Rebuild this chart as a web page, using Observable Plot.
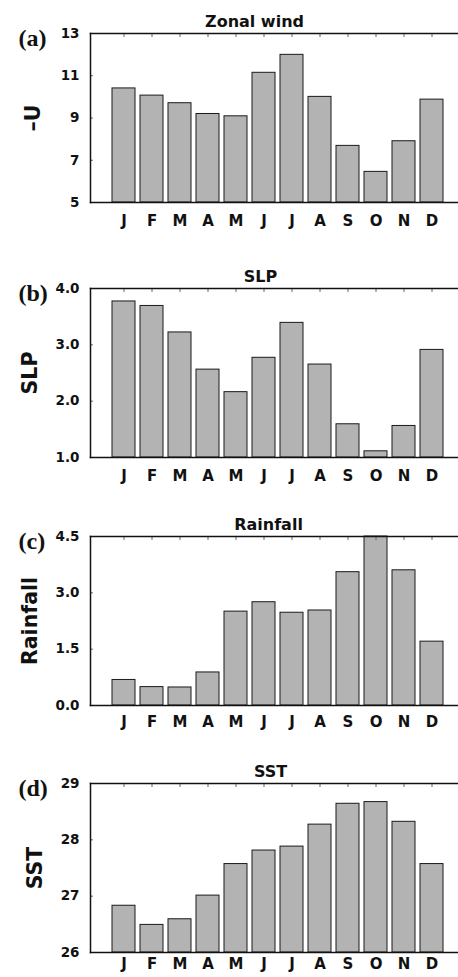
<!DOCTYPE html>
<html><head><meta charset="utf-8">
<script src="https://cdn.jsdelivr.net/npm/d3@7"></script>
<script src="https://cdn.jsdelivr.net/npm/@observablehq/plot@0.6"></script>
<style>
html,body{margin:0;padding:0;background:#fff;overflow:hidden}
#chart{position:relative;width:458px;height:977px;overflow:hidden;background:#fff}
#chart svg{position:absolute;left:0}
</style></head><body><div id="chart"></div>
<script>
// ---- data ----
const months = ["Jan","Feb","Mar","Apr","May","Jun","Jul","Aug","Sep","Oct","Nov","Dec"];
const monthLetters = ["J","F","M","A","M","J","J","A","S","O","N","D"];
const zonalWind = [10.40, 10.06, 9.70, 9.19, 9.08, 11.14, 11.99, 10.00, 7.68, 6.45, 7.90, 9.87];
const slp = [3.77, 3.69, 3.22, 2.56, 2.16, 2.77, 3.39, 2.65, 1.59, 1.11, 1.56, 2.91];
const rainfall = [0.68, 0.49, 0.48, 0.88, 2.50, 2.75, 2.47, 2.53, 3.55, 4.50, 3.60, 1.70];
const sst = [26.83, 26.49, 26.59, 27.01, 27.57, 27.81, 27.88, 28.27, 28.64, 28.67, 28.32, 27.57];
const panelTags = ["(a)", "(b)", "(c)", "(d)"];
const panelTitles = ["Zonal wind", "SLP", "Rainfall", "SST"];
const yLabels = ["\u2013U", "SLP", "Rainfall", "SST"];
const yDomains = [[5, 13], [1, 4], [0, 4.5], [26, 29]];
const yTicks = [[5, 7, 9, 11, 13], [1, 2, 3, 4], [0, 1.5, 3, 4.5], [26, 27, 28, 29]];
const yFormats = ["d", ".1f", ".1f", "d"];
const series = [zonalWind, slp, rainfall, sst];

// ---- layout ----
const W = 458, MT = 40, PH = 169, MB = 40, ML = 90;
const frameTops = [33, 288, 536, 783];
const titleDx = [-20, -14, -6, -4];
const yLabelDx = [-57, -60, -60, -55];
const monthPad = [12.5, 13, 11, 6];
const step = 28.92;

const chart = document.getElementById("chart");
series.forEach((vals, k) => {
  const data = months.map((m, i) => ({m, v: vals[i]}));
  const fmt = d3.format(yFormats[k]);
  const svg = Plot.plot({
    width: W, height: MT + PH + MB,
    marginTop: MT, marginBottom: MB, marginLeft: ML, marginRight: 0,
    style: {fontFamily: "'DejaVu Sans', sans-serif", background: "transparent", color: "#111"},
    x: {type: "band", domain: months, range: [ML, ML + 13 * step], paddingInner: 0.17, paddingOuter: 0.585, label: null},
    y: {domain: yDomains[k], label: null, clamp: true},
    marks: [
      Plot.barY(data, {x: "m", y1: yDomains[k][0], y2: "v", fill: "#b3b3b3", stroke: "#1a1a1a", strokeWidth: 1}),
      Plot.axisY({ticks: yTicks[k], tickFormat: fmt, tickSize: -3, tickPadding: 14, fontSize: 13.5, fontWeight: "bold", stroke: "#666", fill: "#111", label: null}),
      Plot.axisX({anchor: "top", tickSize: -3, tickFormat: () => "", stroke: "#666", label: null}),
      Plot.axisX({anchor: "bottom", tickSize: 0, tickPadding: monthPad[k], tickFormat: d => monthLetters[months.indexOf(d)], fontSize: 15, fontWeight: "bold", fill: "#111", label: null}),
      Plot.frame({anchor: "left", stroke: "#111", strokeWidth: 1.5}),
      Plot.frame({anchor: "top", stroke: "#111", strokeWidth: 1.5}),
      Plot.frame({anchor: "bottom", stroke: "#111", strokeWidth: 1.5}),
      Plot.text([panelTitles[k]], {frameAnchor: "top", dx: titleDx[k], dy: -12, textAnchor: "middle", lineAnchor: "middle", fontSize: 16, fontWeight: "bold", fill: "#111"}),
      Plot.text([yLabels[k]], {frameAnchor: "left", dx: yLabelDx[k], rotate: -90, textAnchor: "middle", lineAnchor: "middle", fontSize: 20.5, fontWeight: "bold", fill: "#111"}),
      Plot.text([panelTags[k]], {frameAnchor: "top-left", dx: -72, dy: 12, textAnchor: "start", lineAnchor: "bottom", fontFamily: "'Liberation Serif', serif", fontSize: 24, fontWeight: "bold", fill: "#111"})
    ]
  });
  svg.style.top = (frameTops[k] - MT) + "px";
  chart.appendChild(svg);
});
</script>
</body></html>
